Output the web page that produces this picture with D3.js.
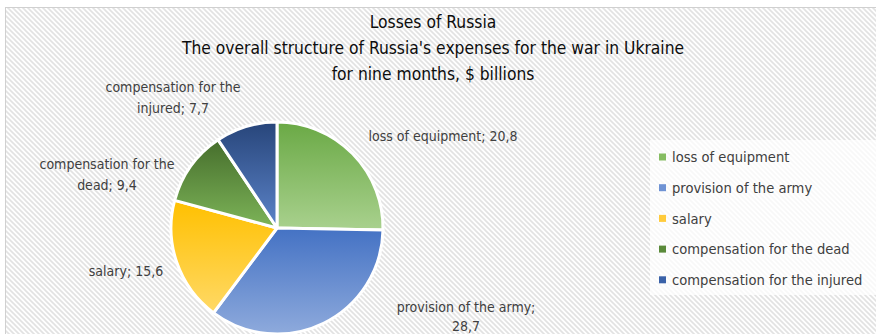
<!DOCTYPE html>
<html>
<head>
<meta charset="utf-8">
<script src="https://cdn.jsdelivr.net/npm/d3@7"></script>
<style>
  html, body { margin: 0; padding: 0; background: #fff; }
  svg { display: block; }
  text { font-family: "Liberation Sans Narrow", "DejaVu Sans Condensed", "Liberation Sans", sans-serif; }
</style>
</head>
<body>
<div id="chart"></div>
<script>
// chart data
const categories = ['loss of equipment', 'provision of the army', 'salary', 'compensation for the dead', 'compensation for the injured'];
const values = [20.8, 28.7, 15.6, 9.4, 7.7];
const valueLabels = ['20,8', '28,7', '15,6', '9,4', '7,7'];
const titleLines = ['Losses of Russia', "The overall structure of Russia's expenses for the war in Ukraine", 'for nine months, $ billions'];

// gradient top / bottom colours per slice, legend swatch colours
const gradTop = ['#6aa945', '#4472c4', '#ffc000', '#466e2c', '#27457a'];
const gradBottom = ['#a9d18e', '#8eaadc', '#ffd966', '#7db458', '#5c84c9'];
const swatch = ['#86bd62', '#6f93d4', '#ffcb3c', '#5a8a3a', '#3a62a8'];

// label placement (Excel best fit), lines split like the original
const labelLines = [
  ['loss of equipment; 20,8'],
  ['provision of the army;', '28,7'],
  ['salary; 15,6'],
  ['compensation for the', 'dead; 9,4'],
  ['compensation for the', 'injured; 7,7']
];
const labelPos = [[443, 141], [466, 312], [126, 276], [107, 169], [173, 92]];

const width = 876;
const height = 334;
const cx = 277;
const cy = 228;
const radius = 106;

const svg = d3.select('#chart').append('svg')
  .attr('width', width)
  .attr('height', height);

const defs = svg.append('defs');

// diagonal hatch background
const pat = defs.append('pattern')
  .attr('id', 'hatch')
  .attr('patternUnits', 'userSpaceOnUse')
  .attr('width', 5)
  .attr('height', 5);
pat.append('rect').attr('width', 5).attr('height', 5).attr('fill', '#ffffff');
pat.append('path')
  .attr('d', 'M-1,-1 L6,6 M-1,4 L1,6 M4,-1 L6,1')
  .attr('stroke', '#e2e2e2')
  .attr('stroke-width', 1.6);

svg.append('rect')
  .attr('x', 5.5)
  .attr('y', 7.5)
  .attr('width', 900)
  .attr('height', 400)
  .attr('fill', 'url(#hatch)')
  .attr('stroke', '#d0d0d0');

// title
svg.append('g')
  .selectAll('text')
  .data(titleLines)
  .enter().append('text')
    .attr('x', 433)
    .attr('y', (d, i) => 28 + i * 26)
    .attr('text-anchor', 'middle')
    .attr('font-size', 17.3)
    .attr('fill', '#0d0d0d')
    .text(d => d);

// slice gradients
categories.forEach((c, i) => {
  const g = defs.append('linearGradient')
    .attr('id', 'grad' + i)
    .attr('x1', 0).attr('y1', 0)
    .attr('x2', 0).attr('y2', 1);
  g.append('stop').attr('offset', '0%').attr('stop-color', gradTop[i]);
  g.append('stop').attr('offset', '100%').attr('stop-color', gradBottom[i]);
});

const pie = d3.pie().sort(null).value(d => d);
const arc = d3.arc().innerRadius(0).outerRadius(radius);

const pieG = svg.append('g')
  .attr('transform', 'translate(' + cx + ',' + cy + ')');

pieG.selectAll('path')
  .data(pie(values))
  .enter().append('path')
    .attr('d', arc)
    .attr('fill', (d, i) => 'url(#grad' + i + ')')
    .attr('stroke', '#ffffff')
    .attr('stroke-width', 3)
    .attr('stroke-linejoin', 'round');

// data labels
const lab = svg.append('g')
  .selectAll('text')
  .data(labelLines)
  .enter().append('text')
    .attr('text-anchor', 'middle')
    .attr('font-size', 14)
    .attr('fill', '#404040');

lab.each(function (lines, i) {
  const t = d3.select(this);
  lines.forEach((l, j) => {
    t.append('tspan')
      .attr('x', labelPos[i][0])
      .attr('y', labelPos[i][1] + j * (i === 1 ? 19 : 21))
      .text(l);
  });
});

// legend
const legend = svg.append('g');
legend.append('rect')
  .attr('x', 650)
  .attr('y', 140)
  .attr('width', 240)
  .attr('height', 155)
  .attr('fill', '#ffffff')
  .attr('fill-opacity', 0.75);

const item = legend.selectAll('g.item')
  .data(categories)
  .enter().append('g')
    .attr('class', 'item')
    .attr('transform', (d, i) => 'translate(659,' + (157 + i * 30.7) + ')');

item.append('rect')
  .attr('x', 0)
  .attr('y', -3.5)
  .attr('width', 7)
  .attr('height', 7)
  .attr('fill', (d, i) => swatch[i]);

item.append('text')
  .attr('x', 13)
  .attr('dy', '0.35em')
  .attr('font-size', 14.6)
  .attr('fill', '#404040')
  .text(d => d);
</script>
</body>
</html>
